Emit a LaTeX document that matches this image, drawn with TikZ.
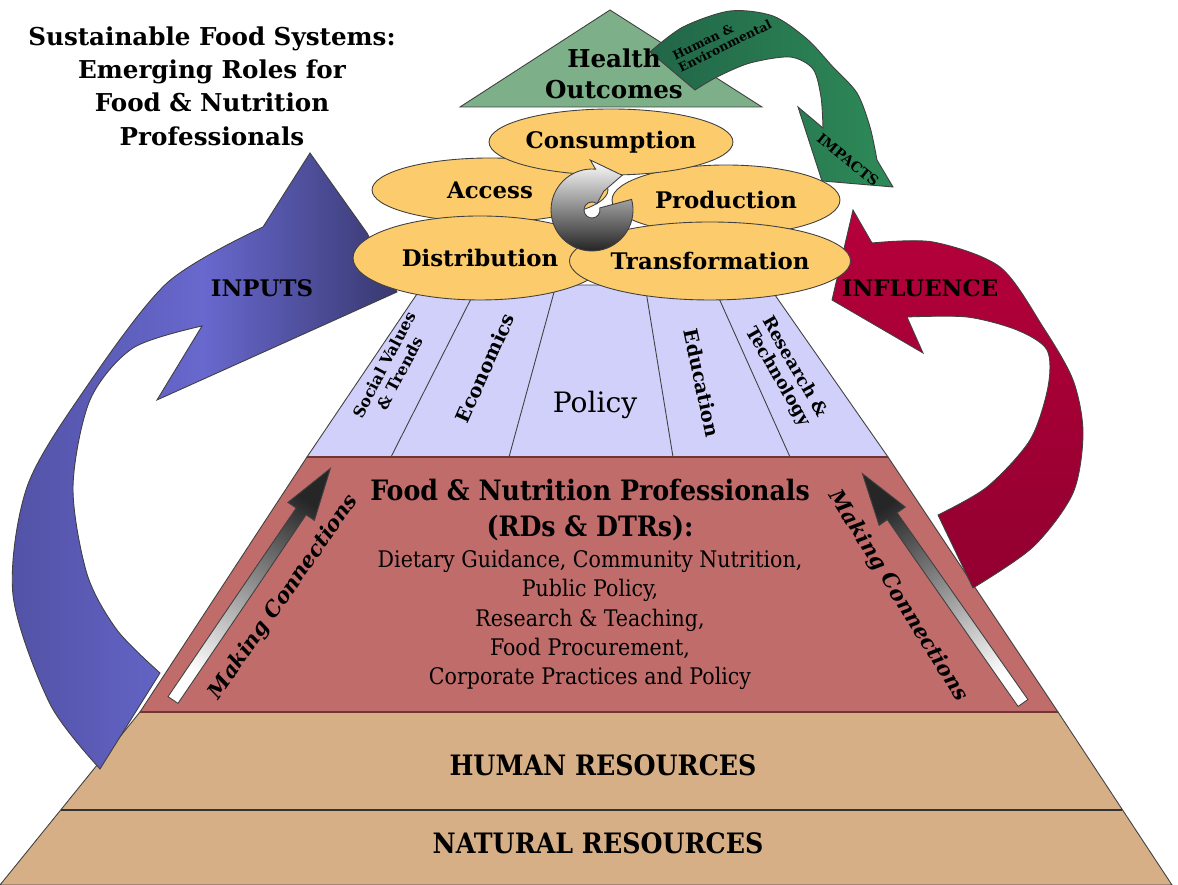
\documentclass[tikz,border=0pt]{standalone}
\usepackage{fontspec}
\setmainfont{DejaVu Serif}
\newfontfamily\condfont{DejaVu Serif Condensed}
\usetikzlibrary{shapes.geometric}
\definecolor{natres}{RGB}{214,175,135}
\definecolor{profred}{RGB}{192,108,106}
\definecolor{profedge}{RGB}{110,55,52}
\definecolor{driver}{RGB}{208,208,250}
\definecolor{stage}{RGB}{251,203,108}
\definecolor{health}{RGB}{125,175,137}
\definecolor{impactD}{RGB}{33,102,72}
\definecolor{impactL}{RGB}{46,138,88}
\definecolor{inputL}{RGB}{104,104,206}
\definecolor{inputM}{RGB}{82,82,166}
\definecolor{inputD}{RGB}{56,56,112}
\definecolor{inflU}{RGB}{182,0,60}
\definecolor{inflD}{RGB}{146,0,48}
\newcommand{\fsz}[2]{\fontsize{#1}{#2}\selectfont}
\newcommand{\linkarrow}[4]{\shade[outl,top color=black!85,bottom color=white,shading angle=#4,shift={(#1,#2)},rotate=#3]
    (0,-6)--(228,-6)--(228,-16)--(280,0)--(228,16)--(228,6)--(0,6)--cycle;}
\tikzset{
  outl/.style={draw=black!75,line width=0.5pt},
  stagebox/.style={outl,fill=stage,ellipse,inner sep=0pt,font=\bfseries\fsz{13}{15}},
  bigcaps/.style={font=\bfseries\fsz{13}{15}},
  linklbl/.style={font=\bfseries\itshape\fsz{12}{14}}
}

\begin{document}
\begin{tikzpicture}[x=0.02cm,y=0.02cm]
\useasboundingbox (0,0) rectangle (1178,885);
\draw[outl,fill=natres] (0,0)--(1172,0)--(1058,173)--(140,173)--cycle;
\draw[black!80,line width=0.8pt] (61,75)--(1122,75);
\draw[outl,fill=profred] (140,173)--(1058,173)--(888,428)--(307,428)--cycle;
\draw[profedge,line width=1.2pt] (140,173)--(1058,173);
\draw[outl,fill=driver] (307,428)--(888,428)--(768,600)--(423,600)--cycle;
\draw[outl] (391,428)--(478,600) (509,428)--(556,600) (673,428)--(645,600) (790,428)--(713,600);
\draw[profedge,line width=1.2pt] (307,428)--(888,428);

\shade[outl,left color=inputM,right color=inputD,middle color=inputL]
  (100,116) -- plot[smooth] coordinates {(100,116)(50,181)(13,290)(27,398)(83,493)(167,602)(263,658)}
  -- (310,732) -- (367,652) -- (397,593) -- (157,485) -- (202,559)
  -- plot[smooth] coordinates {(202,559)(133,537)(90,485)(73,398)(87,311)(117,255)(160,212)}
  -- cycle;
\shade[outl,top color=inflU,bottom color=inflD]
  (832,585) -- (853,675) -- (872,642)
  -- plot[smooth] coordinates {(872,642)(933,643)(1000,618)(1043,558)(1073,505)(1083,452)(1073,392)(1033,338)(973,297)}
  -- (938,370)
  -- plot[smooth] coordinates {(938,370)(987,398)(1030,445)(1048,498)(1047,535)(1017,555)(967,568)(907,568)}
  -- (923,532) -- cycle;

\draw[outl,fill=health] (460,778)--(762,778)--(610,875)--cycle;
\shade[outl,left color=impactD,right color=impactL]
  (650,833) -- plot[smooth] coordinates {(650,833)(683,858)(730,874)(773,869)(807,846)(833,818)(857,792)(870,758)(877,725)}
  -- (893,698) -- (822,704) -- (798,778) -- (823,757)
  -- plot[smooth] coordinates {(823,757)(821,788)(813,816)(790,828)(750,822)(717,808)(695,795)}
  -- cycle;

\node[stagebox,minimum width=4.72cm,minimum height=1.28cm] (acc) at (490,695) {Access};
\node[stagebox,minimum width=4.56cm,minimum height=1.40cm] (prod) at (726,685) {Production};
\node[stagebox,minimum width=4.88cm,minimum height=1.32cm] (cons) at (611,743) {Consumption};
\node[stagebox,minimum width=5.08cm,minimum height=1.68cm] (dist) at (480,627) {Distribution};
\node[stagebox,minimum width=5.40cm,minimum height=1.56cm] (trans) at (710,624) {Transformation};

\begin{scope}[shift={(592,675)}]
\shade[outl,top color=white,bottom color=black!90]
  (15:8) -- (15:41) arc[start angle=15,end angle=-275,radius=41]
  -- (92:50) -- (49:46) -- (58:22) -- (52:8) arc[start angle=-308,end angle=15,radius=8] -- cycle;
\end{scope}

\linkarrow{173}{185}{55.8}{-34}
\linkarrow{1023}{182}{125}{35}

\node[font=\bfseries\fsz{14}{19},align=center] (ttl) at (212,799) {Sustainable Food Systems:\\Emerging Roles for\\Food \& Nutrition\\Professionals};
\node[font=\bfseries\fsz{14}{18},align=center] (hout) at (614,811) {Health\\Outcomes};
\node[font=\bfseries\fsz{7}{7.5},align=left,rotate=26] (hum) at (722,845) {Human \&\\Environmental};
\node[font=\bfseries\fsz{8}{9},rotate=-39] (imp) at (848,725) {IMPACTS};
\node[bigcaps] (inp) at (262,597) {INPUTS};
\node[bigcaps] (infl) at (920,597) {INFLUENCE};

\node[font=\bfseries\fsz{9}{10},align=center,rotate=62] (soc) at (392,516) {Social Values\\\& Trends};
\node[font=\bfseries\fsz{11}{12},rotate=66] (eco) at (485,517) {Economics};
\node[font=\fsz{16}{18}] (pol) at (595,480) {Policy};
\node[font=\bfseries\fsz{11}{12},rotate=-78] (edu) at (702,502) {Education};
\node[font=\bfseries\fsz{10}{11},align=center,rotate=-60] (res) at (786,513) {Research \&\\Technology};

\node[font=\condfont\bfseries\fsz{16}{20},align=center] (fnp) at (590,375) {Food \& Nutrition Professionals\\(RDs \& DTRs):};
\node[font=\condfont\fsz{13}{16.6},align=center] (roles) at (590,265) {Dietary Guidance, Community Nutrition,\\Public Policy,\\Research \& Teaching,\\Food Procurement,\\Corporate Practices and Policy};
\node[linklbl,rotate=55] (mcl) at (284,288) {Making Connections};
\node[linklbl,rotate=-58] (mcr) at (898,289) {Making Connections};

\node[font=\condfont\bfseries\fsz{16}{18}] (hr) at (603,120) {HUMAN RESOURCES};
\node[font=\condfont\bfseries\fsz{16}{18}] (nr) at (598,42) {NATURAL RESOURCES};
\end{tikzpicture}
\end{document}
